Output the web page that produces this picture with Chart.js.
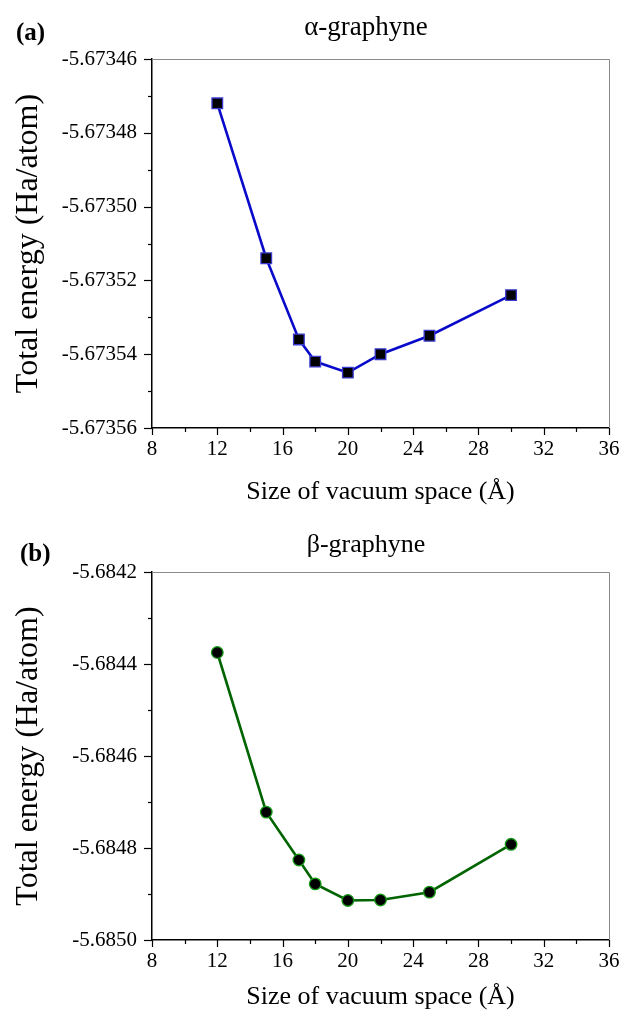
<!DOCTYPE html>
<html>
<head>
<meta charset="utf-8">
<script src="https://cdn.jsdelivr.net/npm/chart.js@4.4.1/dist/chart.umd.min.js"></script>
<style>
  html, body { margin: 0; padding: 0; background: #ffffff; }
  #wrap { position: relative; width: 625px; height: 1013px; overflow: hidden; }
  canvas { position: absolute; left: 0; display: block; }
</style>
</head>
<body>
<div id="wrap">
  <canvas id="chartA" width="625" height="506" style="top:0px"></canvas>
  <canvas id="chartB" width="625" height="507" style="top:506px"></canvas>
</div>
<script>
// ---- data ----
const vacuumSize = [12, 15, 17, 18, 20, 22, 25, 30];
const alphaEnergy = [-5.673472, -5.673514, -5.673536, -5.673542, -5.673545, -5.673540, -5.673535, -5.673524];
const betaEnergy  = [-5.684375, -5.684722, -5.684826, -5.684878, -5.684914, -5.684913, -5.684896, -5.684792];

const xRange = [8, 36];
const xStep = 2;
const alphaYRange = [-5.67356, -5.67346];
const alphaYStep = 0.00001;
const betaYRange = [-5.6850, -5.6842];
const betaYStep = 0.0001;

const titleA = "\u03B1-graphyne";
const titleB = "\u03B2-graphyne";
const panelA = "(a)";
const panelB = "(b)";
const xTitle = "Size of vacuum space (\u00C5)";
const yTitle = "Total energy (Ha/atom)";

const FONT = "'Liberation Serif', 'Times New Roman', serif";

const decoPlugin = {
  id: 'deco',
  afterDraw(chart, args, opts) {
    const ctx = chart.ctx;
    const ca = chart.chartArea;
    ctx.save();
    // grey frame top/right
    ctx.strokeStyle = '#8a8a8a';
    ctx.lineWidth = 1;
    ctx.beginPath();
    ctx.moveTo(ca.left, ca.top + 0.5);
    ctx.lineTo(ca.right + 0.5, ca.top + 0.5);
    ctx.lineTo(ca.right + 0.5, ca.bottom);
    ctx.stroke();
    // tick marks
    ctx.strokeStyle = '#000';
    ctx.lineWidth = 1.2;
    const xs = chart.scales.x, ys = chart.scales.y;
    xs.ticks.forEach((t, i) => {
      const px = Math.round(xs.getPixelForValue(t.value)) + 0.5;
      const len = (i % 2 === 0) ? 7 : 4;
      ctx.beginPath(); ctx.moveTo(px, ca.bottom); ctx.lineTo(px, ca.bottom + len); ctx.stroke();
    });
    ys.ticks.forEach((t, i) => {
      const py = Math.round(ys.getPixelForValue(t.value)) + 0.5;
      const len = (i % 2 === 0) ? 8 : 4;
      ctx.beginPath(); ctx.moveTo(ca.left, py); ctx.lineTo(ca.left - len, py); ctx.stroke();
    });
    // titles
    ctx.fillStyle = '#000';
    ctx.textBaseline = 'alphabetic';
    ctx.textAlign = 'center';
    ctx.font = `${opts.titleSize}px ${FONT}`;
    ctx.fillText(opts.title, opts.titleX, opts.titleY);
    ctx.textAlign = 'left';
    ctx.font = `bold 25px ${FONT}`;
    ctx.fillText(opts.panel, opts.panelX, opts.panelY);
    ctx.restore();
  }
};

function makeChart(id, energy, yRange, yStep, digits, color, pointStyle, radius, borderCol, pad, xAxisH, xTitleLH, deco) {
  const pts = vacuumSize.map((x, i) => ({ x: x, y: energy[i] }));
  return new Chart(document.getElementById(id), {
    type: 'scatter',
    data: {
      datasets: [{
        data: pts,
        showLine: true,
        borderColor: color,
        borderWidth: 2.6,
        pointStyle: pointStyle,
        pointRadius: radius,
        pointHoverRadius: radius,
        pointBackgroundColor: '#000000',
        pointBorderColor: borderCol,
        pointBorderWidth: 1.3,
        tension: 0
      }]
    },
    options: {
      responsive: false,
      animation: false,
      devicePixelRatio: 1,
      layout: { padding: { top: pad.top, right: pad.right, left: 0, bottom: 0 } },
      plugins: { legend: { display: false }, tooltip: { enabled: false }, deco: deco },
      scales: {
        x: {
          type: 'linear',
          min: xRange[0], max: xRange[1],
          afterFit(s) { s.height = xAxisH; s.paddingRight = 0; s.paddingLeft = 0; },
          grid: { display: true, drawOnChartArea: false, drawTicks: false },
          border: { display: true, color: '#000', width: 1.5 },
          ticks: {
            stepSize: xStep, autoSkip: false, maxRotation: 0, padding: 9,
            color: '#000', font: { family: FONT, size: 21 },
            callback: (v, i) => (i % 2 === 0 ? String(v) : '')
          },
          title: {
            display: true, text: xTitle, color: '#000',
            font: { family: FONT, size: 26, lineHeight: xTitleLH },
            padding: { top: 0, bottom: 0 }
          }
        },
        y: {
          type: 'linear',
          min: yRange[0], max: yRange[1],
          afterFit(s) { s.width = 152; s.paddingTop = 0; s.paddingBottom = 0; },
          grid: { display: true, drawOnChartArea: false, drawTicks: false },
          border: { display: true, color: '#000', width: 1.5 },
          ticks: {
            stepSize: yStep, autoSkip: false, padding: 15,
            color: '#000', font: { family: FONT, size: 21 },
            callback: (v, i) => (i % 2 === 0 ? Number(v).toFixed(digits) : '')
          },
          title: {
            display: true, text: yTitle, color: '#000',
            font: { family: FONT, size: 32, lineHeight: 1.2 },
            padding: { top: 9, bottom: 0 }
          }
        }
      }
    },
    plugins: [decoPlugin]
  });
}

makeChart('chartA', alphaEnergy, alphaYRange, alphaYStep, 5, '#0a0acb', 'rect', 7.5, '#3a3ad0',
  { top: 59, right: 16 }, 78, 1.1,
  { title: titleA, titleX: 366, titleY: 35, titleSize: 27, panel: panelA, panelX: 16, panelY: 40 });

makeChart('chartB', betaEnergy, betaYRange, betaYStep, 4, '#006400', 'circle', 5.8, '#1a9a1a',
  { top: 66, right: 16 }, 73, 1.2,
  { title: titleB, titleX: 366, titleY: 46, titleSize: 26, panel: panelB, panelX: 20, panelY: 55 });
</script>
</body>
</html>
